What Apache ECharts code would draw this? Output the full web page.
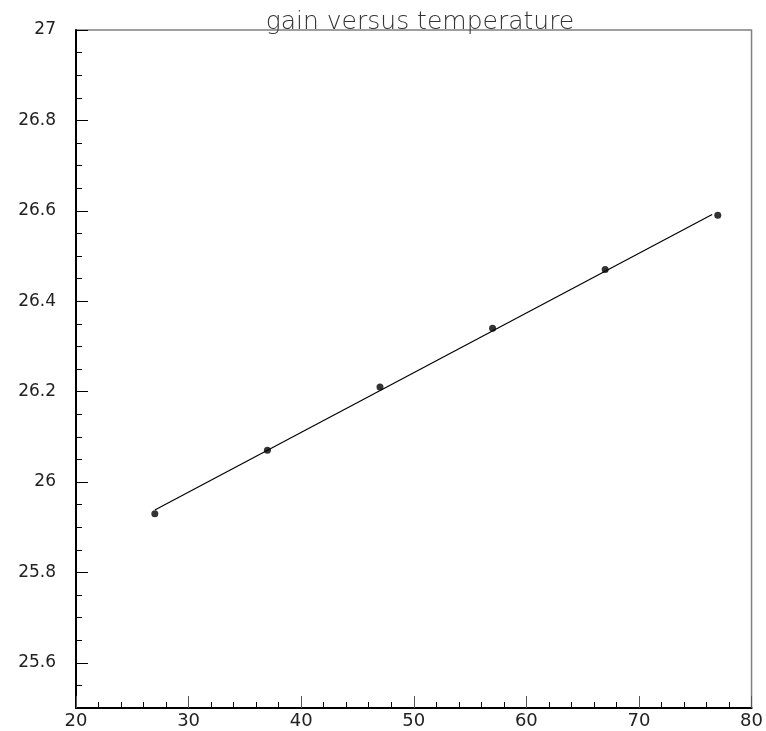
<!DOCTYPE html>
<html>
<head>
<meta charset="utf-8">
<script src="https://cdn.jsdelivr.net/npm/echarts@6/dist/echarts.min.js"></script>
<style>html,body{margin:0;padding:0;background:#fff;}#c{width:766px;height:731px;}</style>
</head>
<body>
<div id="c"></div>
<script>
var titleText = 'gain versus temperature';
var temperature = [27, 37, 47, 57, 67, 77];
var gain = [25.93, 26.07, 26.21, 26.34, 26.47, 26.59];
var fitX = [27, 76.5];
var fitY = [25.938, 26.592];
var yMajorTicks = [25.6, 25.8, 26, 26.2, 26.4, 26.6, 26.8, 27];
var yMinorTicks = [25.55, 25.6, 25.65, 25.7, 25.75, 25.8, 25.85, 25.9, 25.95, 26, 26.05, 26.1, 26.15, 26.2, 26.25, 26.3, 26.35, 26.4, 26.45, 26.5, 26.55, 26.6, 26.65, 26.7, 26.75, 26.8, 26.85, 26.9, 26.95];

var chart = echarts.init(document.getElementById('c'));
var font = 'DejaVu Sans';
chart.setOption({
  animation: false,
  backgroundColor: '#fff',
  title: {
    text: titleText, left: 415, textAlign: 'center', top: 5,
    textStyle: {fontFamily: font, fontSize: 25, fontWeight: 'lighter', color: '#333'}
  },
  grid: {left: 76, right: 12, top: 30, bottom: 23, show: true, borderColor: '#808080', borderWidth: 1.5, backgroundColor: 'transparent'},
  xAxis: {
    type: 'value', min: 20, max: 80, interval: 10,
    axisLine: {show: true, lineStyle: {color: '#000', width: 2}},
    axisTick: {show: true, inside: true, length: 12, lineStyle: {color: '#555', width: 1}},
    minorTick: {show: true, splitNumber: 5, length: 6, lineStyle: {color: '#000', width: 1}},
    axisLabel: {fontFamily: font, fontSize: 18, color: '#222', margin: 4},
    splitLine: {show: false}
  },
  yAxis: [{
    type: 'value', min: 25.5, max: 27,
    axisLine: {show: true, lineStyle: {color: '#000', width: 2}},
    axisTick: {show: true, inside: false, length: -12, customValues: yMajorTicks, lineStyle: {color: '#000', width: 1}},
    axisLabel: {customValues: yMajorTicks, fontFamily: font, fontSize: 17, color: '#222', margin: 20},
    splitLine: {show: false}
  }, {
    type: 'value', min: 25.5, max: 27, position: 'left',
    axisLine: {show: false},
    axisTick: {show: true, inside: false, length: -6, customValues: yMinorTicks, lineStyle: {color: '#000', width: 1}},
    axisLabel: {show: false},
    splitLine: {show: false}
  }],
  series: [{
    type: 'line', yAxisIndex: 0, showSymbol: false, symbol: 'none',
    data: fitX.map(function (x, i) { return [x, fitY[i]]; }),
    lineStyle: {color: '#000', width: 1.2}, z: 2
  }, {
    type: 'scatter', yAxisIndex: 0, symbol: 'circle', symbolSize: 7,
    data: temperature.map(function (x, i) { return [x, gain[i]]; }),
    itemStyle: {color: '#000'}, z: 3
  }]
});
</script>
</body>
</html>
